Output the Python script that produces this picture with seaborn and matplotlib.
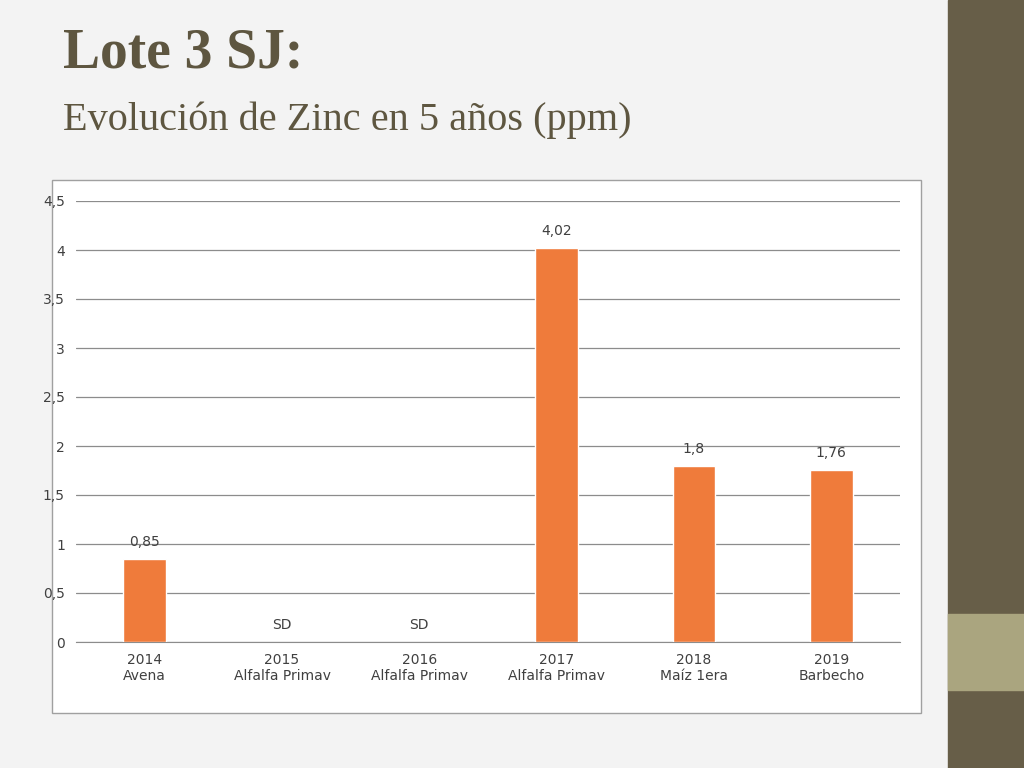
import numpy as np
import pandas as pd
import matplotlib
matplotlib.use("Agg")
import matplotlib.pyplot as plt
from matplotlib.patches import Rectangle
import seaborn as sns

years = ["2014", "2015", "2016", "2017", "2018", "2019"]
crops = ["Avena", "Alfalfa Primav", "Alfalfa Primav", "Alfalfa Primav", "Maíz 1era", "Barbecho"]
zinc = [0.85, np.nan, np.nan, 4.02, 1.8, 1.76]
value_labels = ["0,85", "SD", "SD", "4,02", "1,8", "1,76"]
yticks = [0, 0.5, 1, 1.5, 2, 2.5, 3, 3.5, 4, 4.5]
ytick_labels = ["0", "0,5", "1", "1,5", "2", "2,5", "3", "3,5", "4", "4,5"]

df = pd.DataFrame({"cat": [f"{y}\n{c}" for y, c in zip(years, crops)], "zinc": zinc})

sns.set_style("white")
fig = plt.figure(figsize=(10.24, 7.68), dpi=100)
fig.patch.set_facecolor("#f3f3f3")

W, H = 1024, 768
def box(x0, y0, x1, y1):
    return [x0 / W, 1 - y1 / H, (x1 - x0) / W, (y1 - y0) / H]

# sidebar
fig.patches.append(Rectangle((948 / W, 0), 76 / W, 1, transform=fig.transFigure, color="#675e48", zorder=0))
fig.patches.append(Rectangle((948 / W, 1 - 690 / H), 76 / W, 76 / H, transform=fig.transFigure, color="#aaa57f", zorder=0))
# chart frame
fig.patches.append(Rectangle((52 / W, 1 - 713 / H), 869 / W, 533 / H, transform=fig.transFigure,
                             facecolor="white", edgecolor="#a0a0a0", lw=1, zorder=-1))

fig.text(63 / W, 1 - 68 / H, "Lote 3 SJ:", fontfamily="Liberation Serif", fontweight="bold",
         fontsize=40, color="#5e5640")
fig.text(63 / W, 1 - 130 / H, "Evolución de Zinc en 5 años (ppm)", fontfamily="Liberation Serif",
         fontsize=29, color="#5e5640")

ax = fig.add_axes(box(76, 201, 900, 642))
ax.set_zorder(5)
ax.set_facecolor("white")
sns.barplot(data=df, x="cat", y="zinc", color="#ef7b3b", saturation=1, width=0.31, ax=ax, zorder=3)
ax.set_ylim(0, 4.5)
ax.set_yticks(yticks)
ax.set_yticklabels(ytick_labels)
ax.yaxis.grid(True, color="#8c8c8c", lw=0.9, zorder=0)
ax.set_axisbelow(True)
for s in ["top", "right", "left"]:
    ax.spines[s].set_visible(False)
ax.spines["bottom"].set_color("#8c8c8c")
ax.set_xlabel("")
ax.set_ylabel("")
ax.tick_params(axis="both", length=0, labelsize=10, colors="#404040", pad=8)
for i, (v, lab) in enumerate(zip(zinc, value_labels)):
    yv = 0 if np.isnan(v) else v
    ax.text(i, yv + 0.1, lab, ha="center", va="bottom", fontsize=10, color="#404040")

fig.savefig("out.png", dpi=100, facecolor=fig.get_facecolor())
